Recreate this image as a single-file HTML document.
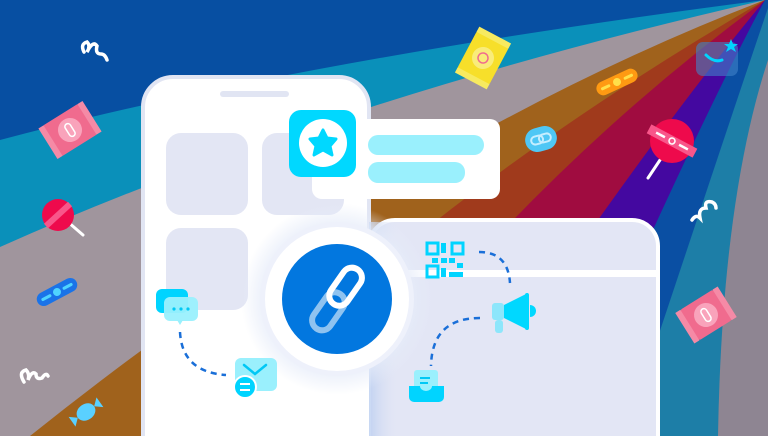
<!DOCTYPE html>
<html><head><meta charset="utf-8"><style>
html,body{margin:0;padding:0;width:768px;height:436px;overflow:hidden;background:#074fa2}
svg{display:block}
</style></head><body>
<svg width="768" height="436" viewBox="0 0 768 436" xmlns="http://www.w3.org/2000/svg">
<defs>
<radialGradient id="glow" cx="0.5" cy="0.5" r="0.5">
<stop offset="0.7" stop-color="#e6ecf9"/><stop offset="1" stop-color="#e6ecf9" stop-opacity="0"/>
</radialGradient>
<linearGradient id="shadow" x1="0" x2="1" y1="0" y2="0">
<stop offset="0" stop-color="#b9cdf0"/><stop offset="1" stop-color="#e3e6f5" stop-opacity="0"/>
</linearGradient>
<clipPath id="frame"><rect width="768" height="436"/></clipPath>
</defs>
<g clip-path="url(#frame)">
<rect width="768" height="436" fill="#074fa2"/>
<path d="M765,0 Q300,60 0,140 L0,436 L768,436 L768,0Z" fill="#0a90ba"/>
<path d="M765,0 Q330,100 0,247 L0,436 L768,436 L768,0Z" fill="#a0959d"/>
<path d="M765,0 Q400,140 30,436 L768,436 L768,0Z" fill="#a0621c"/>
<path d="M765,0 Q420,200 200,436 L768,436 L768,0Z" fill="#a03a1c"/>
<path d="M765,0 Q520,180 330,436 L768,436 L768,0Z" fill="#a00c40"/>
<path d="M765,0 Q640,150 450,436 L768,436 L768,0Z" fill="#4408a0"/>
<path d="M765,0 Q700,120 560,436 L768,436 L768,0Z" fill="#0a4fa3"/>
<path d="M768,8 Q730,120 625,436 L768,436Z" fill="#1d7ea7"/>
<path d="M768,60 Q722,200 718,436 L768,436Z" fill="#8e8592"/>

<path d="M84,52 q-4,-8 3,-10 q4,4 0,10 q6,-12 10,-6 q-2,8 4,8 q4,0 6,6" fill="none" stroke="#fff" stroke-width="3.5" stroke-linecap="round"/>
<g transform="translate(70,130) rotate(-32)">
<rect x="-22" y="-18" width="44" height="36" rx="3" fill="#f06b8e"/>
<rect x="-26" y="-18" width="6" height="36" fill="#f58aa6"/><rect x="20" y="-18" width="6" height="36" fill="#f58aa6"/>
<circle r="12" fill="#f9a3bb"/><rect x="-3" y="-7" width="6" height="14" rx="3" fill="none" stroke="#fff" stroke-width="1.5"/>
</g>
<line x1="68" y1="222" x2="83" y2="235" stroke="#fff" stroke-width="3" stroke-linecap="round"/>
<circle cx="58" cy="215" r="16" fill="#ee0a4c"/>
<line x1="46" y1="226" x2="70" y2="204" stroke="#f8568a" stroke-width="6"/>
<g transform="translate(57,292) rotate(-28)"><rect x="-22" y="-7" width="44" height="14" rx="7" fill="#1a73e8"/><line x1="-16" y1="0" x2="-8" y2="0" stroke="#4fd4ff" stroke-width="3" stroke-linecap="round"/><line x1="8" y1="0" x2="16" y2="0" stroke="#4fd4ff" stroke-width="3" stroke-linecap="round"/><circle r="4" fill="#4fd4ff"/></g>
<path d="M24,382 q-6,-10 2,-12 q4,4 2,10 q4,-10 8,-6 q0,6 6,4 q4,-6 6,-2" fill="none" stroke="#fff" stroke-width="3.5" stroke-linecap="round"/>
<g transform="translate(86,412) rotate(-35)"><ellipse rx="10" ry="8" fill="#5ad0ff"/><path d="M-10,0 l-7,-6 v12z M10,0 l7,-6 v12z" fill="#5ad0ff"/></g>

<g transform="translate(483,58) rotate(28)"><rect x="-18" y="-22" width="36" height="44" rx="3" fill="#f7df2a"/><rect x="-18" y="-26" width="36" height="6" fill="#f7ea60"/><rect x="-18" y="20" width="36" height="6" fill="#f7ea60"/><circle r="11" fill="#f9ec7a"/><circle r="5" fill="none" stroke="#f06b8e" stroke-width="1.5"/></g>
<g transform="translate(617,82) rotate(-25)"><rect x="-22" y="-7" width="44" height="14" rx="7" fill="#ff9a12"/><line x1="-16" y1="0" x2="-9" y2="0" stroke="#ffe04a" stroke-width="3" stroke-linecap="round"/><line x1="9" y1="0" x2="16" y2="0" stroke="#ffe04a" stroke-width="3" stroke-linecap="round"/><circle r="4" fill="#ffe04a"/></g>
<g transform="translate(541,139) rotate(-15)"><rect x="-16" y="-12" width="32" height="24" rx="12" fill="#4fc7f5"/><rect x="-10" y="-4" width="12" height="8" rx="4" fill="none" stroke="#c6eeff" stroke-width="2"/><rect x="-2" y="-4" width="12" height="8" rx="4" fill="none" stroke="#c6eeff" stroke-width="2"/></g>
<rect x="696" y="42" width="42" height="34" rx="7" fill="#3f82c8" opacity="0.6"/>
<path d="M706,55 q8,8 16,5" fill="none" stroke="#00d4ff" stroke-width="3" stroke-linecap="round"/>
<polygon points="731,39 733,44 738,44 734,47 736,52 731,49 726,52 728,47 724,44 729,44" fill="#00d4ff"/>
<line x1="660" y1="160" x2="648" y2="178" stroke="#fff" stroke-width="3" stroke-linecap="round"/>
<circle cx="672" cy="141" r="22" fill="#ee0a4c"/>
<g transform="translate(672,141) rotate(28)"><rect x="-26" y="-5" width="52" height="10" fill="#f8568a"/><line x1="-18" y1="0" x2="-8" y2="0" stroke="#fff" stroke-width="2.5"/><line x1="8" y1="0" x2="18" y2="0" stroke="#fff" stroke-width="2.5"/><circle r="3" fill="none" stroke="#fff" stroke-width="1.5"/></g>
<path d="M692,220 q4,-6 8,-2 q-2,-10 6,-10 q-2,-8 6,-6 q4,2 4,6" fill="none" stroke="#fff" stroke-width="3.5" stroke-linecap="round"/>
<g transform="translate(706,315) rotate(-32)"><rect x="-20" y="-18" width="40" height="36" rx="3" fill="#f06b8e"/><rect x="-25" y="-18" width="6" height="36" fill="#f58aa6"/><rect x="19" y="-18" width="6" height="36" fill="#f58aa6"/><circle r="12" fill="#f9a3bb"/><rect x="-3" y="-7" width="6" height="14" rx="3" fill="none" stroke="#fff" stroke-width="1.5"/></g>

<rect x="143" y="77" width="226" height="390" rx="30" fill="#fff" stroke="#e1e5f3" stroke-width="4"/>
<rect x="220" y="91" width="69" height="6" rx="3" fill="#e1e5f3"/>
<rect x="166" y="133" width="82" height="82" rx="15" fill="#e3e6f4"/>
<rect x="262" y="133" width="82" height="82" rx="15" fill="#e3e6f4"/>
<rect x="166" y="228" width="82" height="82" rx="15" fill="#e3e6f4"/>

<rect x="369" y="220" width="289" height="260" rx="26" fill="#e3e6f5" stroke="#fff" stroke-width="4"/>
<rect x="369" y="222" width="30" height="214" fill="url(#shadow)" opacity="0.8"/>
<rect x="371" y="270" width="285" height="7" fill="#fff"/>

<rect x="312" y="119" width="188" height="80" rx="10" fill="#fff"/>
<rect x="368" y="135" width="116" height="20" rx="10" fill="#9af0fd"/>
<rect x="368" y="162" width="97" height="21" rx="10" fill="#9af0fd"/>
<rect x="289" y="110" width="67" height="67" rx="12" fill="#00d8ff"/>
<circle cx="323" cy="143" r="24" fill="#fff"/>
<path d="M323,130 L327,138 L336,139 L330,146 L332,155 L323,150 L314,155 L316,146 L310,139 L319,138Z" fill="#00d8ff" stroke="#00d8ff" stroke-width="3" stroke-linejoin="round"/>

<circle cx="337" cy="299" r="96" fill="url(#glow)"/>
<circle cx="337" cy="299" r="77" fill="#eef1fb"/>
<circle cx="337" cy="299" r="72" fill="#fff"/>
<circle cx="337" cy="299" r="55" fill="#0277df"/>
<g transform="translate(337,299) rotate(-55)">
<rect x="-36" y="-10" width="42" height="20" rx="10" fill="none" stroke="#8fc3f0" stroke-width="6"/>
<rect x="-6" y="-10" width="42" height="20" rx="10" fill="none" stroke="#fff" stroke-width="6"/>
</g>

<rect x="156" y="289" width="32" height="24" rx="6" fill="#00d4ff"/>
<rect x="164" y="297" width="34" height="24" rx="6" fill="#9af0fd" opacity="0.95"/>
<path d="M177,320 l3,5 l3,-5z" fill="#9af0fd"/>
<circle cx="174" cy="309" r="1.6" fill="#00c8f5"/><circle cx="181" cy="309" r="1.6" fill="#00c8f5"/><circle cx="188" cy="309" r="1.6" fill="#00c8f5"/>
<path d="M180,332 Q182,372 226,375" fill="none" stroke="#1a6fd8" stroke-width="2.5" stroke-dasharray="6,5"/>
<rect x="235" y="358" width="42" height="33" rx="6" fill="#9af0fd"/>
<path d="M244,365 l11,9 l11,-9" fill="none" stroke="#00c8f5" stroke-width="2.5" stroke-linecap="round"/>
<circle cx="245" cy="387" r="11" fill="#00d4ff" stroke="#fff" stroke-width="2"/>
<line x1="240" y1="384" x2="250" y2="384" stroke="#fff" stroke-width="2"/><line x1="240" y1="390" x2="250" y2="390" stroke="#fff" stroke-width="2"/>

<g fill="#00d4ff">
<rect x="427" y="243" width="11" height="11" fill="none" stroke="#00d4ff" stroke-width="3"/>
<rect x="452" y="243" width="11" height="11" fill="none" stroke="#00d4ff" stroke-width="3"/>
<rect x="427" y="266" width="11" height="11" fill="none" stroke="#00d4ff" stroke-width="3"/>
<rect x="441" y="243" width="5" height="10"/><rect x="441" y="258" width="6" height="5"/><rect x="449" y="258" width="6" height="5"/><rect x="457" y="263" width="6" height="5"/><rect x="441" y="268" width="5" height="9"/><rect x="449" y="272" width="14" height="5"/><rect x="432" y="258" width="6" height="5"/>
</g>
<path d="M479,252 Q508,252 510,283" fill="none" stroke="#1a6fd8" stroke-width="2.5" stroke-dasharray="6,5"/>
<rect x="492" y="303" width="12" height="17" rx="3" fill="#8de6fb"/>
<rect x="495" y="320" width="8" height="13" rx="3" fill="#8de6fb"/>
<path d="M504,305 L528,293 L528,330 L504,318Z" fill="#00d8ff"/>
<rect x="525" y="293" width="4" height="37" rx="2" fill="#00d8ff"/>
<path d="M530,305 a6,6 0 0 1 0,12z" fill="#00d8ff"/>
<path d="M480,318 Q432,318 431,366" fill="none" stroke="#1a6fd8" stroke-width="2.5" stroke-dasharray="6,5"/>
<rect x="414" y="370" width="24" height="22" rx="3" fill="#9af0fd"/>
<line x1="420" y1="378" x2="430" y2="378" stroke="#00c8f5" stroke-width="2"/><line x1="420" y1="383" x2="428" y2="383" stroke="#00c8f5" stroke-width="2"/>
<path d="M409,386 h11 a6,5 0 0 0 12,0 h12 v11 a5,5 0 0 1 -5,5 h-25 a5,5 0 0 1 -5,-5z" fill="#00d4ff"/>
</g>
</svg>
</body></html>
